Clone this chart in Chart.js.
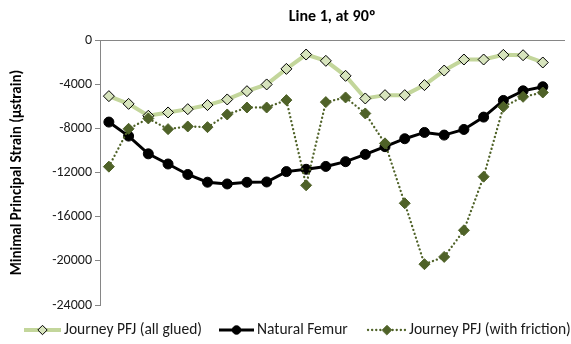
<!DOCTYPE html>
<html>
<head>
<meta charset="utf-8">
<script src="https://cdn.jsdelivr.net/npm/chart.js@4"></script>
<style>
  html, body { margin: 0; padding: 0; background: #fff; }
  #wrap { width: 571px; height: 344px; }
</style>
</head>
<body>
<div id="wrap"><canvas id="chart"></canvas></div>
<script>
  const FONT = "Carlito, Calibri, Lato, sans-serif";

  // values (µstrain)
  const allGlued = [-5070, -5770, -6850, -6550, -6250, -5880, -5370, -4620, -4010, -2600, -1300,
    -1870, -3230, -5280, -4980, -4980, -4070, -2750, -1750, -1750, -1330, -1360, -2020];
  const naturalFemur = [-7420, -8690, -10300, -11220, -12170, -12870, -13030, -12880, -12850, -11910, -11700,
    -11440, -11010, -10350, -9650, -8930, -8360, -8600, -8090, -6970, -5460, -4590, -4220];
  const withFriction = [-11460, -8030, -7090, -8060, -7820, -7880, -6730, -6100, -6100, -5430, -13150,
    -5610, -5190, -6640, -9350, -14780, -20300, -19640, -17230, -12370, -6040, -5130, -4740];
  const seriesNames = ["Journey PFJ (all glued)", "Natural Femur", "Journey PFJ (with friction)"];
  const yTicks = [0, -4000, -8000, -12000, -16000, -20000, -24000];

  const toPoints = (arr) => arr.map((v, i) => ({ x: i, y: v }));

  // legend drawn like the Excel one: short line + marker, left aligned
  const legendStarts = [24, 219, 368];
  const legendLens = [37, 35, 38];
  const excelLegend = {
    id: "excelLegend",
    afterDraw(chart) {
      const ctx = chart.ctx;
      const y = 330;
      ctx.save();
      chart.data.datasets.forEach((ds, i) => {
        const x0 = legendStarts[i];
        const x1 = x0 + legendLens[i];
        ctx.beginPath();
        ctx.strokeStyle = ds.borderColor;
        ctx.lineWidth = ds.borderWidth;
        ctx.lineCap = ds.borderCapStyle || "butt";
        ctx.setLineDash(ds.borderDash || []);
        ctx.moveTo(x0, y);
        ctx.lineTo(x1, y);
        ctx.stroke();
        ctx.setLineDash([]);
        ctx.fillStyle = ds.pointBackgroundColor;
        ctx.strokeStyle = ds.pointBorderColor;
        ctx.lineWidth = ds.pointBorderWidth;
        Chart.helpers.drawPoint(ctx, {
          pointStyle: ds.pointStyle,
          radius: ds.pointRadius * 0.85,
          borderWidth: ds.pointBorderWidth,
          rotation: 0,
        }, (x0 + x1) / 2, y);
        ctx.fillStyle = "#1a1a1a";
        ctx.font = "15.5px " + FONT;
        ctx.textBaseline = "middle";
        ctx.textAlign = "left";
        ctx.fillText(ds.label, x1 + 3, y);
      });
      ctx.restore();
    },
  };

  new Chart(document.getElementById("chart"), {
    type: "line",
    data: {
      datasets: [
        {
          label: seriesNames[0],
          data: toPoints(allGlued),
          borderColor: "#c3d69b",
          borderWidth: 4,
          pointStyle: "rectRot",
          pointRadius: 5.5,
          pointBackgroundColor: "#d7e4bd",
          pointBorderColor: "#000",
          pointBorderWidth: 1,
          order: 3,
        },
        {
          label: seriesNames[1],
          data: toPoints(naturalFemur),
          borderColor: "#000",
          borderWidth: 3,
          pointStyle: "circle",
          pointRadius: 5,
          pointBackgroundColor: "#000",
          pointBorderColor: "#000",
          pointBorderWidth: 1,
          order: 2,
        },
        {
          label: seriesNames[2],
          data: toPoints(withFriction),
          borderColor: "#4f6228",
          borderWidth: 2.3,
          borderDash: [0.1, 4],
          borderCapStyle: "round",
          pointStyle: "rectRot",
          pointRadius: 5.5,
          pointBackgroundColor: "#4f6228",
          pointBorderColor: "#4f6228",
          pointBorderWidth: 1,
          order: 1,
        },
      ],
    },
    options: {
      responsive: true,
      maintainAspectRatio: false,
      animation: false,
      layout: { padding: { top: 0, left: 0, right: 0, bottom: 39 } },
      plugins: {
        legend: { display: false },
        tooltip: { enabled: false },
        title: {
          display: true,
          text: "Line 1, at 90º",
          fullSize: false,
          color: "#000",
          font: { family: FONT, size: 16, weight: "bold" },
          padding: { top: 7, bottom: 14 },
        },
      },
      scales: {
        x: {
          type: "linear",
          position: "top",
          min: -0.45,
          max: 23.1,
          ticks: { display: false },
          grid: { display: false, drawTicks: false },
          border: { display: true, color: "#868686", width: 1 },
        },
        y: {
          min: -24000,
          max: 0,
          afterFit: (scale) => { scale.width = 100; },
          afterBuildTicks: (scale) => { scale.ticks = yTicks.map((v) => ({ value: v })); },
          ticks: {
            color: "#1a1a1a",
            font: { family: FONT, size: 14 },
            padding: 3,
            callback: (value) => String(value),
          },
          grid: {
            drawOnChartArea: false,
            drawTicks: true,
            tickLength: 5,
            tickColor: "#868686",
          },
          border: { display: true, color: "#868686", width: 1 },
          title: {
            display: true,
            text: "Minimal Principal Strain (µstrain)",
            color: "#000",
            font: { family: FONT, size: 15, weight: "bold" },
            padding: { top: 8, bottom: 0 },
          },
        },
      },
    },
    plugins: [excelLegend],
  });
</script>
</body>
</html>
